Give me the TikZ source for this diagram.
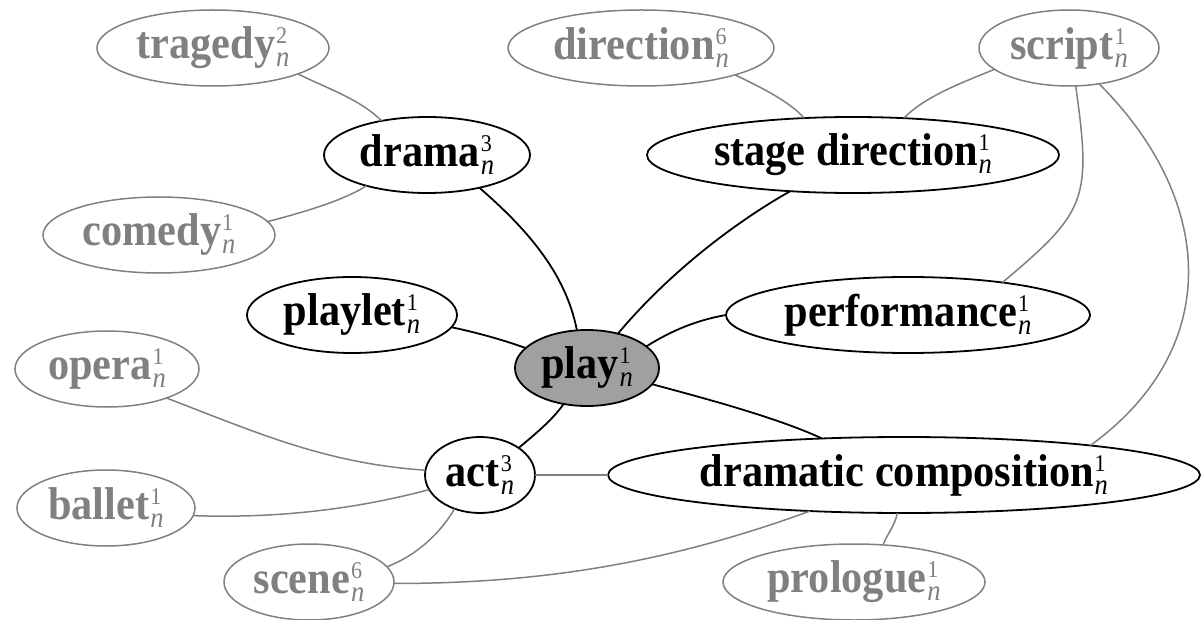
\documentclass[tikz,border=0pt]{standalone}
\usepackage{fontspec}
\setmainfont{Liberation Serif}[FakeStretch=0.92]
\usetikzlibrary{shapes.geometric}
\definecolor{edgegray}{RGB}{128,128,128}
\definecolor{playfill}{RGB}{160,160,160}
\newcommand{\senselab}[2]{\textbf{#1}\kern1pt\hbox{\rlap{\raisebox{15pt}{\fontsize{24}{24}\selectfont #2}}\raisebox{-8pt}{\fontsize{29}{29}\selectfont\itshape n}}}
\begin{document}
\begin{tikzpicture}[x=1pt,y=1pt,
  sense/.style={ellipse, draw, line width=1.8pt, minimum height=76pt, inner sep=0pt, outer sep=0pt, font=\fontsize{46}{52}\selectfont},
  far/.style={sense, draw=edgegray, text=edgegray, line width=1.5pt},
  centre/.style={sense, fill=playfill},
  blackedge/.style={line width=1.8pt},
  grayedge/.style={draw=edgegray, line width=1.5pt}]
\useasboundingbox (0,0) rectangle (1201,-620);
% nodes
\node[far, minimum width=232pt] (tragedy) at (213,-48) {\senselab{tragedy}{2}};
\node[far, minimum width=266pt] (direction) at (641,-48) {\senselab{direction}{6}};
\node[far, minimum width=180pt] (script) at (1069,-48) {\senselab{script}{1}};
\node[sense, minimum width=206pt] (drama) at (427,-155) {\senselab{drama}{3}};
\node[sense, minimum width=412pt] (stage) at (853,-155) {\senselab{stage direction}{1}};
\node[far, minimum width=232pt] (comedy) at (159,-235) {\senselab{comedy}{1}};
\node[sense, minimum width=210pt] (playlet) at (352,-315) {\senselab{playlet}{1}};
\node[sense, minimum width=364pt] (performance) at (908,-315) {\senselab{performance}{1}};
\node[far, minimum width=184pt] (opera) at (107,-369) {\senselab{opera}{1}};
\node[centre, minimum width=144pt] (play) at (587,-368) {\senselab{play}{1}};
\node[sense, minimum width=110pt] (act) at (480,-475) {\senselab{act}{3}};
\node[sense, minimum width=592pt] (dc) at (904,-475) {\senselab{dramatic composition}{1}};
\node[far, minimum width=178pt] (ballet) at (106,-508) {\senselab{ballet}{1}};
\node[far, minimum width=170pt] (scene) at (309,-582) {\senselab{scene}{6}};
\node[far, minimum width=262pt] (prologue) at (854,-582) {\senselab{prologue}{1}};
% gray edges
\draw[grayedge] (tragedy.-17) .. controls +(-26:35) and +(135:30) .. (drama.143);
\draw[grayedge] (comedy.7) .. controls +(15:35) and +(212:30) .. (drama.207);
\draw[grayedge] (direction.-16) .. controls +(-25:30) and +(130:20) .. (stage.143);
\draw[grayedge] (script.196) .. controls +(202:40) and +(45:30) .. (stage.36);
\draw[grayedge] (script.-80) .. controls +(-82:115) and +(40:110) .. (performance.19);
\draw[grayedge] (script.-50) .. controls +(-45:165) and +(36:165) .. (dc.9);
\draw[grayedge] (opera.-26) .. controls +(-21:100) and +(176:100) .. (act.175);
\draw[grayedge] (ballet.-5) .. controls +(-2:80) and +(195:80) .. (act.196);
\draw[grayedge] (act.-127) .. controls +(-120:30) and +(21:30) .. (scene.11);
\draw[grayedge] (scene.-1) .. controls +(0:150) and +(200:150) .. (dc.201);
\draw[grayedge] (prologue.52) .. controls +(68:12) and +(-100:12) .. (dc.-100);
\draw[grayedge] (act) -- (dc);
% black edges
\draw[blackedge] (play.105) .. controls +(101:60) and +(-41:60) .. (drama.-32);
\draw[blackedge] (play.48) .. controls +(50:100) and +(209:35) .. (stage.210);
\draw[blackedge] (play.20) .. controls +(32:30) and +(190:30) .. (performance.180);
\draw[blackedge] (play.162) .. controls +(160:25) and +(-12:25) .. (playlet.-7);
\draw[blackedge] (play.-123) .. controls +(-125:20) and +(40:20) .. (act.35);
\draw[blackedge] (play.-14) .. controls +(-15:50) and +(155:50) .. (dc.156);
\end{tikzpicture}
\end{document}
